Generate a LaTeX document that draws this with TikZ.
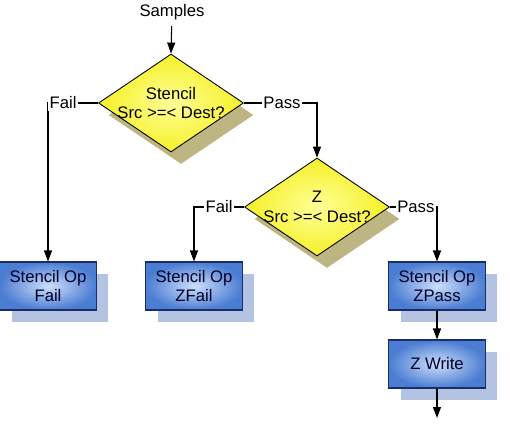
\documentclass[tikz,border=0pt]{standalone}
\usepackage{fontspec}
\setmainfont{Liberation Sans}
\usetikzlibrary{shapes.geometric, arrows.meta, shadows}

\definecolor{testyellow}{RGB}{245,240,40}
\definecolor{testlight}{RGB}{255,255,150}
\definecolor{khaki}{RGB}{190,182,130}
\definecolor{opblue}{RGB}{75,125,210}
\definecolor{oplight}{RGB}{205,222,250}
\definecolor{opedge}{RGB}{25,45,105}
\definecolor{opshade}{RGB}{180,195,225}

\begin{document}
\begin{tikzpicture}[
  x=0.02cm, y=-0.02cm,
  font=\fontsize{9.5}{11.2}\selectfont,
  test/.style={diamond, draw, line width=0.5pt, minimum width=2.9cm, minimum height=1.96cm, inner sep=0pt,
    inner color=testlight, outer color=testyellow,
    general shadow={fill=khaki, shadow xshift=0.2cm, shadow yshift=-0.24cm}},
  testtxt/.style={align=center, inner sep=0pt},
  op/.style={draw=opedge, line width=0.6pt, minimum width=1.94cm, minimum height=0.96cm, align=center,
    inner color=oplight, outer color=opblue, text=black!85!blue,
    general shadow={fill=opshade, shadow xshift=0.24cm, shadow yshift=-0.24cm}},
  arr/.style={-{Triangle[length=2.2mm, width=1.6mm]}, line width=0.6pt},
  lbl/.style={fill=white, inner sep=1pt}
]
  \useasboundingbox (0,0) rectangle (510,429);

  % Tests
  \node (samples) at (172,12) {Samples};
  \node[test] (stencil) at (171,103) {};
  \node[testtxt] (stenciltxt) at (stencil) {Stencil\\Src >=< Dest?};
  \node[test] (ztest) at (317,207) {};
  \node[testtxt] (ztesttxt) at (ztest) {Z\\Src >=< Dest?};

  % Operations
  \node[op] (sfail) at (48,286) {Stencil Op\\Fail};
  \node[op] (zfail) at (194,286) {Stencil Op\\ZFail};
  \node[op] (zpass) at (437,286) {Stencil Op\\ZPass};
  \node[op] (zwrite) at (437,364) {Z Write};
  \coordinate (out) at (437,418);

  % Arrows
  \draw[arr] (samples) -- (stencil.north);
  \draw[arr] (stencil.west) -- node[lbl, pos=0.7] {Fail} (sfail.north |- stencil.west) -- (sfail.north);
  \draw[arr] (stencil.east) -- node[lbl, pos=0.52] {Pass} (ztest.north |- stencil.east) -- (ztest.north);
  \draw[arr] (ztest.west) -- node[lbl] {Fail} (zfail.north |- ztest.west) -- (zfail.north);
  \draw[arr] (ztest.east) -- node[lbl, pos=0.55] {Pass} (zpass.north |- ztest.east) -- (zpass.north);
  \draw[arr] (zpass) -- (zwrite);
  \draw[arr] (zwrite) -- (out);

\end{tikzpicture}
\end{document}
